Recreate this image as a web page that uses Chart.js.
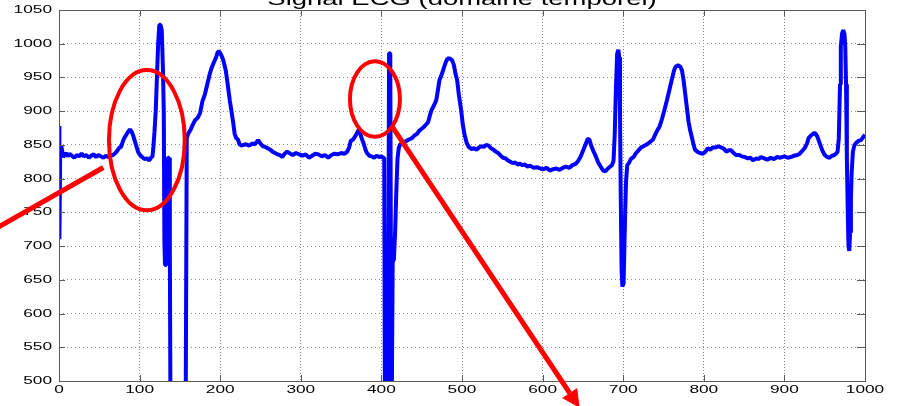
<!DOCTYPE html>
<html>
<head>
<meta charset="utf-8">
<title>Signal ECG</title>
<script src="https://cdn.jsdelivr.net/npm/chart.js@4.4.1/dist/chart.umd.min.js"></script>
<style>
  html, body { margin: 0; padding: 0; background: #fff; }
  #wrap { width: 902px; height: 406px; }
</style>
</head>
<body>
<div id="wrap"><canvas id="ecgChart" width="902" height="406"></canvas></div>
<script>
// ── Signal ECG : indice d'échantillon / amplitude ──
const sampleX = [
  0, 0.5, 1.5, 3, 5, 7, 9, 11, 13, 16, 19, 22, 25, 28, 31, 34, 37, 40, 43, 46, 49, 52, 55, 58, 61, 64, 67, 70,
  72, 75, 77, 80, 82, 85, 88, 90, 92, 94, 96, 98, 100, 103, 106, 109, 112, 114, 116, 117,
  118.5, 120, 121.5, 123, 124.5, 126, 127.5, 129, 130, 130.8, 131.5, 133, 134, 135, 136.5, 137.5, 138.5, 157, 158.5,
  160, 163, 166, 169, 172, 175, 178, 181, 184, 187, 189, 192, 195, 197, 199, 201, 204, 207, 209.5, 212, 214, 216, 218, 220, 222, 224, 226,
  229, 232, 236, 240, 243, 247, 250, 253, 256, 259, 262, 265, 268, 271, 274, 277, 280, 283, 287, 290, 294, 298,
  302, 306, 310, 314, 318, 322, 326, 330, 334, 338, 342, 346, 350, 354, 357, 360, 362, 365, 368, 370, 372, 374, 376, 378,
  380, 382, 385, 388, 391, 394, 397, 400, 402,
  403.5, 404.5, 406, 407, 408, 409.5, 411, 412.5, 414, 415.5, 417, 418.5, 420, 421.5, 423, 426, 430, 434, 438, 441, 444, 447,
  450, 453, 456, 458, 460, 462, 465, 468, 470, 472, 475, 478, 480, 482, 485, 488, 490, 492, 494, 496, 499,
  501, 503, 506, 509, 512, 515, 518, 521, 524, 527, 530, 533, 536, 539, 542, 545, 548, 551, 554, 557, 560, 563, 566, 569,
  572, 575, 578, 581, 585, 589, 593, 597, 601, 605, 609, 613, 617, 621, 625, 629, 633, 637, 641, 644, 647, 650, 653, 656, 658,
  660, 663, 666, 669, 672, 675, 678, 681, 684, 686, 688,
  689.5, 691, 692.5, 694, 695, 696, 697, 698, 699, 700.5, 701.5, 702.5, 703.5, 705, 707, 710, 713, 716, 719, 722, 725, 728,
  731, 734, 737, 740, 743, 745, 748, 751, 754, 757, 760, 763, 765, 768, 771, 773, 775, 777, 779, 781, 783, 785, 787, 789,
  792, 795, 799, 802, 805, 808, 811, 814, 818, 822, 825, 828, 831, 834, 837, 840, 844, 847, 851, 855, 858, 861, 865, 868,
  871, 875, 879, 883, 887, 891, 895, 900, 904, 908, 912, 916, 919, 922, 925, 928, 930, 933, 937, 939, 941, 944, 947, 950,
  953, 956, 959, 962, 964, 966, 967.5, 969, 970, 971.5, 973, 974.5, 975.5, 976.5, 977.5, 978.5, 979.5, 980.5, 981.5, 982.5,
  983.5, 985, 987, 989, 992, 995, 998, 1000
];
const ecgValue = [
  878, 710, 845, 848, 832, 835, 838, 833, 837, 834, 831, 835, 833, 837, 833, 835, 831, 834, 836, 832, 835, 833, 831, 834, 832, 834, 835, 838,
  841, 846, 847, 858, 862, 868, 873, 870, 864, 856, 848, 840, 836, 832, 829, 830, 827, 831, 833, 845,
  870, 900, 950, 1000, 1028, 1028, 1020, 960, 900, 705, 672, 672, 705, 831, 831, 700, 400, 400, 860,
  866, 872, 880, 887, 890, 897, 915, 925, 940, 955, 963, 972, 980, 988, 988, 984, 975, 960, 938, 915, 900, 884, 866, 860, 858, 851, 849,
  850, 851, 849, 852, 851, 857, 852, 848, 847, 845, 843, 840, 838, 836, 835, 832, 837, 840, 837, 835, 838, 836,
  834, 836, 831, 834, 837, 836, 833, 835, 831, 835, 837, 836, 838, 837, 839, 846, 856, 858, 864, 868, 873, 866, 858, 852,
  844, 838, 834, 833, 831, 834, 832, 833, 831,
  831, 400, 400, 700, 400, 986, 986, 400, 677, 680, 720, 780, 830, 845, 850, 854, 855, 858, 860, 864, 866, 871,
  874, 877, 881, 884, 893, 901, 908, 916, 930, 946, 955, 966, 973, 978, 978, 975, 968, 955, 946, 925, 901,
  880, 866, 852, 846, 844, 845, 843, 846, 848, 847, 850, 849, 845, 843, 840, 838, 834, 831, 830, 827, 825, 823, 824, 821,
  822, 820, 821, 818, 819, 816, 817, 815, 814, 816, 812, 814, 815, 813, 816, 818, 816, 820, 822, 826, 832, 841, 850, 859, 858,
  850, 841, 833, 824, 818, 812, 811, 815, 818, 820, 826,
  866, 935, 985, 991, 980, 900, 770, 665, 640, 645, 700, 752, 795, 820, 823, 830, 832, 838, 842, 846, 848, 850,
  852, 855, 858, 866, 873, 877, 888, 901, 915, 930, 945, 960, 966, 968, 966, 960, 945, 925, 905, 885, 872, 862, 852, 843,
  840, 838, 837, 840, 845, 843, 846, 846, 848, 846, 844, 840, 842, 842, 838, 835, 835, 833, 832, 830, 831, 827, 830, 829,
  832, 830, 828, 831, 829, 832, 831, 833, 831, 832, 834, 835, 837, 841, 845, 852, 860, 864, 868, 866, 862, 852, 842, 835,
  832, 831, 834, 835, 837, 840, 860, 940, 996, 1015, 1020, 1015, 996, 940, 830, 760, 700, 693, 720, 770,
  810, 840, 850, 853, 856, 857, 862, 865
];

const xTicks = [0, 100, 200, 300, 400, 500, 600, 700, 800, 900, 1000];
const yTicks = [500, 550, 600, 650, 700, 750, 800, 850, 900, 950, 1000, 1050];
const chartTitle = 'Signal ECG (domaine temporel)';

// le texte de la figure est légèrement étiré à l'horizontale
const TEXT_STRETCH = 1.57;
const TEXT_FONT = '"Liberation Sans", Arial, Helvetica, sans-serif';

function stretchedText(ctx, str, x, y, size, align, baseline) {
  ctx.save();
  ctx.translate(x, y);
  ctx.scale(TEXT_STRETCH, 1);
  ctx.font = size + 'px ' + TEXT_FONT;
  ctx.textAlign = align;
  ctx.textBaseline = baseline;
  ctx.fillStyle = '#000';
  ctx.fillText(str, 0, 0);
  ctx.restore();
}

// cadre, graduations internes, étiquettes et titre façon Matlab
const matlabFrame = {
  id: 'matlabFrame',
  afterDatasetsDraw(chart) {
    const { ctx, chartArea: a, scales: { x, y } } = chart;
    ctx.save();
    ctx.strokeStyle = '#5a5a5a';
    ctx.lineWidth = 1;
    ctx.strokeRect(Math.round(a.left) + 0.5, Math.round(a.top) + 0.5,
                   Math.round(a.right - a.left), Math.round(a.bottom - a.top));
    ctx.beginPath();
    xTicks.forEach(v => {
      const p = Math.round(x.getPixelForValue(v)) + 0.5;
      ctx.moveTo(p, a.bottom); ctx.lineTo(p, a.bottom - 6);
      ctx.moveTo(p, a.top); ctx.lineTo(p, a.top + 6);
    });
    yTicks.forEach(v => {
      const p = Math.round(y.getPixelForValue(v)) + 0.5;
      ctx.moveTo(a.left, p); ctx.lineTo(a.left + 6, p);
      ctx.moveTo(a.right, p); ctx.lineTo(a.right - 8, p);
    });
    ctx.stroke();
    ctx.restore();

    xTicks.forEach(v => stretchedText(ctx, String(v), x.getPixelForValue(v), a.bottom + 9, 11, 'center', 'middle'));
    yTicks.forEach(v => stretchedText(ctx, String(v), a.left - 7, y.getPixelForValue(v), 11, 'right', 'middle'));
    stretchedText(ctx, chartTitle, (a.left + a.right) / 2, 5, 17.5, 'center', 'alphabetic');
  }
};

// annotations rouges (ellipses + flèches), placées en coordonnées du signal
const redMarks = {
  id: 'redMarks',
  afterDraw(chart) {
    const { ctx, scales: { x, y } } = chart;
    const px = v => x.getPixelForValue(v);
    const py = v => y.getPixelForValue(v);
    ctx.save();
    ctx.strokeStyle = '#ff0000';
    ctx.fillStyle = '#ff0000';
    ctx.lineCap = 'butt';

    const ellipse = (cx, cy, rx, ry) => {
      ctx.beginPath();
      ctx.ellipse(px(cx), py(cy), px(cx + rx) - px(cx), py(cy) - py(cy + ry), 0, 0, Math.PI * 2);
      ctx.lineWidth = 4;
      ctx.stroke();
    };
    ellipse(109, 857, 47, 104);
    ellipse(392, 918, 31, 56);

    // trait vers la première onde P
    ctx.lineWidth = 5;
    ctx.beginPath();
    ctx.moveTo(px(-80), py(725));
    ctx.lineTo(px(55), py(816.5));
    ctx.stroke();

    // flèche depuis la deuxième ellipse
    const x0 = px(414), y0 = py(876), x1 = px(646), y1 = py(460);
    const ang = Math.atan2(y1 - y0, x1 - x0);
    const head = 18, half = 9;
    const bx = x1 - head * Math.cos(ang), by = y1 - head * Math.sin(ang);
    ctx.beginPath();
    ctx.moveTo(x0, y0);
    ctx.lineTo(bx, by);
    ctx.stroke();
    ctx.beginPath();
    ctx.moveTo(x1, y1);
    ctx.lineTo(bx + half * Math.sin(ang), by - half * Math.cos(ang));
    ctx.lineTo(bx - half * Math.sin(ang), by + half * Math.cos(ang));
    ctx.closePath();
    ctx.fill();
    ctx.restore();
  }
};

new Chart(document.getElementById('ecgChart'), {
  type: 'line',
  data: {
    datasets: [{
      label: 'ECG',
      data: sampleX.map((v, i) => ({ x: v, y: ecgValue[i] })),
      borderColor: '#0000ff',
      borderWidth: 4,
      borderJoinStyle: 'bevel',
      pointRadius: 0,
      tension: 0,
      fill: false
    }]
  },
  options: {
    responsive: false,
    animation: false,
    layout: { padding: { top: 10, right: 37, left: 0, bottom: 0 } },
    plugins: {
      legend: { display: false },
      tooltip: { enabled: false },
      title: { display: false }
    },
    scales: {
      x: {
        type: 'linear',
        min: xTicks[0],
        max: xTicks[xTicks.length - 1],
        afterFit: s => { s.height = 25; },
        ticks: { display: false, stepSize: 100 },
        grid: { color: '#8c8c8c', lineWidth: 1, drawTicks: false },
        border: { display: false, dash: [1, 2] }
      },
      y: {
        min: yTicks[0],
        max: yTicks[yTicks.length - 1],
        afterFit: s => { s.width = 59; },
        ticks: { display: false, stepSize: 50 },
        grid: { color: '#8c8c8c', lineWidth: 1, drawTicks: false },
        border: { display: false, dash: [1, 3] }
      }
    }
  },
  plugins: [matlabFrame, redMarks]
});
</script>
</body>
</html>
